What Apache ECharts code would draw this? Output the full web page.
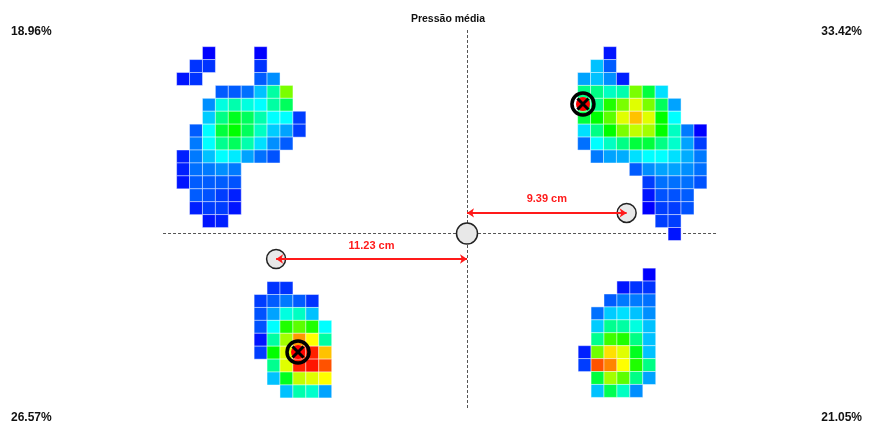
<!DOCTYPE html>
<html>
<head>
<meta charset="utf-8">
<title>Pressão média</title>
<script src="https://cdn.jsdelivr.net/npm/echarts@6/dist/echarts.min.js"></script>
<style>
    html, body { margin: 0; padding: 0; background: #fff; }
    #main { width: 871px; height: 423px; }
</style>
</head>
<body>
<div id="main"></div>
<script>
// valores de pressão (0-100) por pé, linha a linha; null = sem contato
var cellPitch = 0.76; // cm
var feetOrigin = {
    leftFront: [-16.70, 10.61],
    rightFront: [6.89, 10.61],
    leftRear: [-12.14, -3.21],
    rightRear: [6.92, -2.42]
};
var leftFront = [
    [null, null, 0, null, null, null, 0],
    [null, 5, 5, null, null, null, 5],
    [2, 5, null, null, null, null, 9, 14],
    [null, null, null, 9, 9, 11, 19, 34, 62],
    [null, null, 14, 28, 33, 28, 25, 34, 41],
    [null, null, 20, 37, 47, 41, 33, 25, 25, 6],
    [null, 9, 25, 44, 50, 41, 31, 20, 16, 6],
    [null, 12, 25, 36, 41, 33, 22, 14, 9],
    [3, 12, 19, 25, 23, 16, 11, 8],
    [3, 11, 12, 14, 12],
    [2, 9, 9, 9, 8],
    [null, 9, 8, 6, 3],
    [null, 3, 6, 6, 2],
    [null, null, 2, 3]
];
var rightFront = [
    [null, null, 2],
    [null, 19, 9],
    [16, 19, 14, 3],
    [37, 37, 31, 33, 62, 44, 22],
    [40, 37, 53, 62, 72, 62, 41, 16],
    [44, 50, 59, 72, 81, 72, 50, 25],
    [22, 37, 50, 62, 69, 66, 50, 31, 12, 0],
    [11, 25, 31, 37, 44, 44, 37, 30, 16, 6],
    [null, 12, 16, 17, 22, 25, 25, 22, 17, 12],
    [null, null, null, null, 9, 14, 16, 16, 14, 11],
    [null, null, null, null, null, 6, 11, 11, 11, 8],
    [null, null, null, null, null, 2, 8, 8, 9],
    [null, null, null, null, null, 0, 6, 6, 8],
    [null, null, null, null, null, null, 6, 6],
    [null, null, null, null, null, null, null, 2]
];
var leftRear = [
    [null, 5, 5],
    [6, 9, 12, 9, 5],
    [8, 16, 28, 31, 19],
    [8, 25, 53, 59, 53, 25],
    [2, 34, 66, 85, 75, 34],
    [6, 50, 72, 95, 97, 81],
    [null, 36, 72, 97, 98, 92],
    [null, 19, 47, 69, 72, 75],
    [null, null, 19, 33, 30, 16]
];
var rightRear = [
    [null, null, null, null, null, 0],
    [null, null, null, 2, 5, 5],
    [null, null, 9, 12, 12, 11],
    [null, 11, 20, 22, 19, 14],
    [null, 20, 36, 34, 28, 19],
    [null, 36, 56, 53, 37, 19],
    [3, 61, 78, 72, 47, 19],
    [6, 92, 87, 75, 53, 37],
    [null, 44, 66, 59, 37, 16],
    [null, 19, 42, 31, 14]
];

var quadrantPct = ['18.96%', '33.42%', '26.57%', '21.05%'];
var chartTitle = 'Pressão média';

// centro de pressão de cada pé (cm) e centros dos eixos
var copMarks = [[6.82, 7.62], [-9.94, -6.97]];
var centerPoint = [0, 0];
var frontCenter = [9.39, 1.21];
var rearCenter = [-11.23, -1.5];
var frontDist = 9.39;
var rearDist = 11.23;

function toCells(rows, origin) {
    var out = [];
    rows.forEach(function (row, r) {
        row.forEach(function (v, c) {
            if (v === null || v === undefined) return;
            out.push([origin[0] + c * cellPitch, origin[1] - r * cellPitch, v]);
        });
    });
    return out;
}

var cells = []
    .concat(toCells(leftFront, feetOrigin.leftFront))
    .concat(toCells(rightFront, feetOrigin.rightFront))
    .concat(toCells(leftRear, feetOrigin.leftRear))
    .concat(toCells(rightRear, feetOrigin.rightRear));

var chart = echarts.init(document.getElementById('main'), null, {renderer: 'canvas'});

var txtFont = 'Liberation Sans, Arial, sans-serif';

chart.setOption({
    animation: false,
    grid: {left: 8, width: 850, top: 12.5, height: 408},
    xAxis: {type: 'value', min: -27, max: 23, show: false, splitLine: {show: false}},
    yAxis: {type: 'value', min: -11, max: 13, show: false, splitLine: {show: false}},
    visualMap: {
        show: false,
        seriesIndex: 0,
        dimension: 2,
        min: 0,
        max: 100,
        inRange: {color: ['#0000ff', '#00ffff', '#00ff00', '#ffff00', '#ff0000']}
    },
    graphic: [
        {type: 'text', left: 11, top: 26, style: {text: quadrantPct[0], font: 'bold 12px ' + txtFont, fill: '#111'}},
        {type: 'text', right: 9, top: 26, style: {text: quadrantPct[1], font: 'bold 12px ' + txtFont, fill: '#111'}},
        {type: 'text', left: 11, top: 412, style: {text: quadrantPct[2], font: 'bold 12px ' + txtFont, fill: '#111'}},
        {type: 'text', right: 9, top: 412, style: {text: quadrantPct[3], font: 'bold 12px ' + txtFont, fill: '#111'}},
        {type: 'text', x: 448, y: 14, style: {text: chartTitle, font: 'bold 10.5px ' + txtFont, fill: '#111', textAlign: 'center'}}
    ],
    series: [
        {
            type: 'scatter',
            symbol: 'rect',
            symbolSize: 13,
            itemStyle: {borderColor: 'rgba(255,255,255,0.45)', borderWidth: 1, opacity: 1},
            data: cells,
            z: 2
        },
        {
            // linhas guia tracejadas
            type: 'lines',
            coordinateSystem: 'cartesian2d',
            silent: true,
            lineStyle: {color: '#555', width: 1, type: [3, 2], opacity: 1},
            data: [
                {coords: [[-17.88, 0], [14.76, 0]]},
                {coords: [[0, 11.97], [0, -10.38]]}
            ],
            z: 1
        },
        {
            // distâncias
            type: 'lines',
            coordinateSystem: 'cartesian2d',
            silent: true,
            symbol: ['arrow', 'arrow'],
            symbolSize: 7,
            lineStyle: {color: '#ff1a1a', width: 2, opacity: 1},
            label: {
                show: true,
                position: 'middle',
                distance: 8,
                color: '#ff1a1a',
                fontWeight: 'bold',
                fontSize: 11,
                fontFamily: txtFont
            },
            data: [
                {coords: [[centerPoint[0], frontCenter[1]], frontCenter], label: {formatter: frontDist.toFixed(2) + ' cm'}},
                {coords: [rearCenter, [centerPoint[0], rearCenter[1]]], label: {formatter: rearDist.toFixed(2) + ' cm'}}
            ],
            z: 4
        },
        {
            type: 'scatter',
            symbol: 'circle',
            itemStyle: {color: '#e8e8e8', borderColor: '#222', borderWidth: 1.5, opacity: 1},
            data: [
                {value: centerPoint, symbolSize: 21},
                {value: frontCenter, symbolSize: 19},
                {value: rearCenter, symbolSize: 19}
            ],
            z: 3
        },
        {
            // centro de pressão
            type: 'custom',
            renderItem: function (params, api) {
                var p = api.coord([api.value(0), api.value(1)]);
                var d = 5.5;
                return {
                    type: 'group',
                    children: [
                        {type: 'circle', shape: {cx: p[0], cy: p[1], r: 7}, style: {fill: '#ff0000'}},
                        {type: 'line', shape: {x1: p[0] - d, y1: p[1] - d, x2: p[0] + d, y2: p[1] + d}, style: {stroke: '#000', lineWidth: 3}},
                        {type: 'line', shape: {x1: p[0] - d, y1: p[1] + d, x2: p[0] + d, y2: p[1] - d}, style: {stroke: '#000', lineWidth: 3}},
                        {type: 'circle', shape: {cx: p[0], cy: p[1], r: 11}, style: {fill: 'none', stroke: '#000', lineWidth: 3.5}}
                    ]
                };
            },
            data: copMarks,
            z: 6
        }
    ]
});
</script>
</body>
</html>
